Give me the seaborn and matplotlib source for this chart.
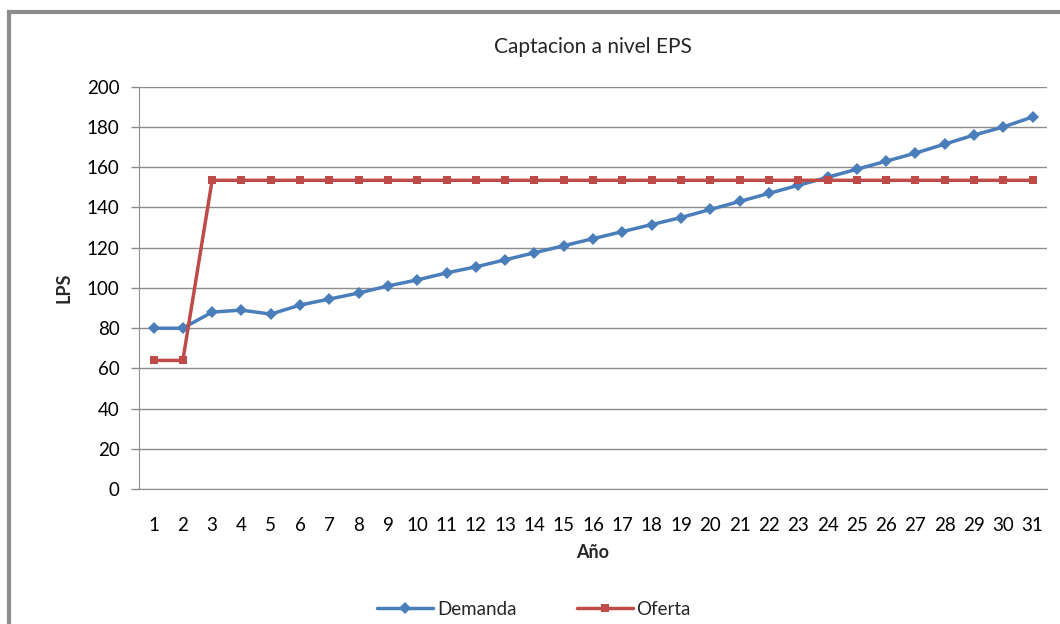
import matplotlib.pyplot as plt
import matplotlib.patches as mpatches
import pandas as pd
import seaborn as sns

anios = list(range(1, 32))
demanda = [80, 80, 88, 89, 87, 91.5, 94.5, 97.5, 101, 104, 107.5, 110.5, 114, 117.5,
           121, 124.5, 128, 131.5, 135, 139, 143, 147, 151, 155, 159, 163, 167,
           171.5, 176, 180, 185]
oferta = [64, 64] + [153.5] * 29

df = pd.DataFrame({"Año": anios, "Demanda": demanda, "Oferta": oferta})

sns.set_style("white")
plt.rcParams["font.family"] = ["Lato", "DejaVu Sans"]

fig = plt.figure(figsize=(10.6, 6.24), dpi=100)
ax = fig.add_axes([0.131, 0.216, 0.857, 0.645])

# outer chart frame
fig.patches.append(mpatches.Rectangle((0.0085, -0.05), 1.1, 1.03, transform=fig.transFigure,
                                      fill=False, edgecolor="#8c8c8c", linewidth=3))

sns.lineplot(data=df, x="Año", y="Demanda", ax=ax, color="#4a7ebb", marker="D",
             markersize=6.5, linewidth=2.5, markeredgewidth=0, label="Demanda")
sns.lineplot(data=df, x="Año", y="Oferta", ax=ax, color="#be4b48", marker="s",
             markersize=6, linewidth=2.5, markeredgewidth=0, label="Oferta")

ax.set_xlim(0.5, 31.5)
ax.set_ylim(0, 200)
ax.set_yticks(range(0, 201, 20))
ax.set_xticks(anios)
ax.grid(axis="y", color="#8c8c8c", linewidth=1)
ax.set_axisbelow(True)
for s in ["top", "right"]:
    ax.spines[s].set_visible(False)
ax.spines["left"].set_color("#8c8c8c")
ax.spines["bottom"].set_color("#8c8c8c")
ax.tick_params(axis="both", labelsize=13.5, colors="black", length=0)
ax.tick_params(axis="x", pad=20)
ax.tick_params(axis="y", length=6, color="#8c8c8c", width=1, direction="out", left=True, pad=8)

ax.set_title("Captacion a nivel EPS", fontsize=15, pad=24)
ax.set_xlabel("Año", fontsize=13, fontweight="bold", labelpad=7)
ax.set_ylabel("LPS", fontsize=13, fontweight="bold", labelpad=10)

ax.legend(loc="upper center", bbox_to_anchor=(0.435, -0.235), ncol=2, frameon=False,
          fontsize=13.5, handlelength=3, columnspacing=3.2, handletextpad=0.2)

fig.savefig("out.png", dpi=100)
